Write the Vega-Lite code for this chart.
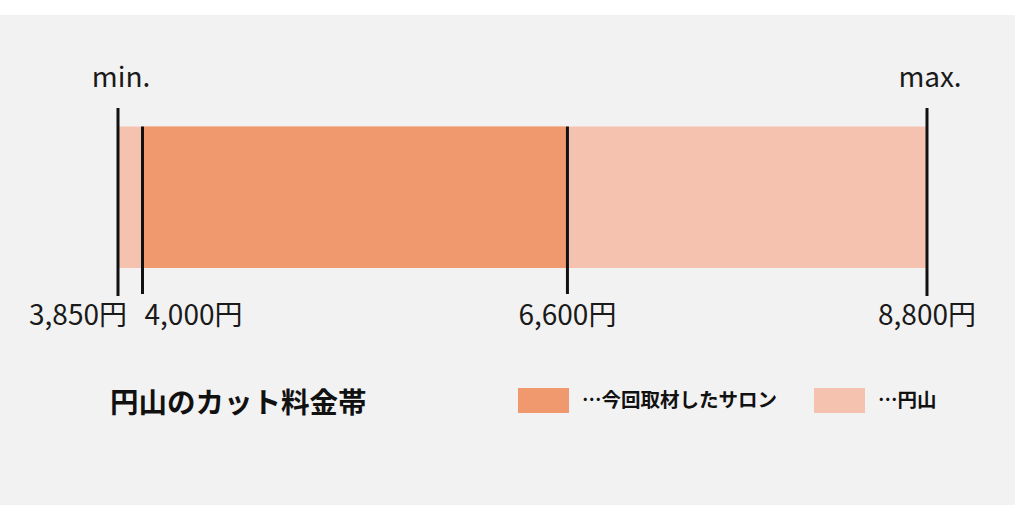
{
  "$schema": "https://vega.github.io/schema/vega-lite/v6.json",
  "width": 1015,
  "height": 490,
  "autosize": {"type": "none"},
  "padding": {"left": 0, "top": 15, "right": 9, "bottom": 13},
  "background": "#ffffff",
  "view": {"fill": "#f2f2f2", "stroke": null},
  "config": {"font": "Noto Sans CJK JP"},
  "datasets": {
    "ranges": [
      {"series": "円山", "low": 3850, "high": 8800},
      {"series": "今回取材したサロン", "low": 4000, "high": 6600}
    ],
    "heading": [
      {"title": "円山のカット料金帯"}
    ]
  },
  "data": {"name": "ranges"},
  "layer": [
    {
      "mark": {"type": "rect"},
      "encoding": {
        "x": {
          "field": "low",
          "type": "quantitative",
          "scale": {"domain": [3128, 9338.5], "nice": false, "zero": false},
          "axis": null
        },
        "x2": {"field": "high"},
        "y": {
          "datum": 22.76,
          "type": "quantitative",
          "scale": {"domain": [0, 100], "reverse": true, "nice": false, "zero": false},
          "axis": null
        },
        "y2": {"datum": 51.63},
        "color": {
          "field": "series",
          "type": "nominal",
          "scale": {
            "domain": ["今回取材したサロン", "円山"],
            "range": ["#F0996F", "#F6C2B0"]
          },
          "legend": {
            "title": null,
            "orient": "none",
            "legendX": 518,
            "legendY": 360,
            "direction": "horizontal",
            "columns": 2,
            "padding": 0,
            "symbolType": "M-1,-0.49H1V0.49H-1Z",
            "symbolSize": 2601,
            "symbolStrokeWidth": 0,
            "symbolOpacity": 1,
            "labelFont": "Noto Sans CJK JP",
            "labelFontSize": 19.5,
            "labelFontWeight": "bold",
            "labelColor": "#111111",
            "labelOffset": 13,
            "labelLimit": 400,
            "columnPadding": 36,
            "labelExpr": "'…' + datum.label"
          }
        }
      }
    },
    {
      "transform": [
        {"fold": ["low", "high"], "as": ["end", "price"]},
        {"filter": "datum.series === '円山'"}
      ],
      "mark": {"type": "rule", "strokeWidth": 3, "color": "#111111"},
      "encoding": {
        "x": {"field": "price", "type": "quantitative"},
        "y": {"datum": 18.98, "type": "quantitative"},
        "y2": {"datum": 57.35}
      }
    },
    {
      "transform": [
        {"fold": ["low", "high"], "as": ["end", "price"]},
        {"filter": "datum.series === '今回取材したサロン'"}
      ],
      "mark": {"type": "rule", "strokeWidth": 3, "color": "#111111"},
      "encoding": {
        "x": {"field": "price", "type": "quantitative"},
        "y": {"datum": 22.76, "type": "quantitative"},
        "y2": {"datum": 56.94}
      }
    },
    {
      "transform": [
        {"filter": "datum.series === '円山'"},
        {"fold": ["low", "high"], "as": ["end", "price"]},
        {"calculate": "datum.end === 'low' ? 'min.' : 'max.'", "as": "label"}
      ],
      "mark": {"type": "text", "fontSize": 28, "color": "#1a1a1a", "align": "center", "baseline": "alphabetic", "dx": 3},
      "encoding": {
        "x": {"field": "price", "type": "quantitative"},
        "y": {"datum": 14.69, "type": "quantitative"},
        "text": {"field": "label"}
      }
    },
    {
      "transform": [
        {"filter": "datum.series === '円山'"},
        {"fold": ["low"], "as": ["end", "price"]},
        {"calculate": "format(datum.price, ',') + '円'", "as": "label"}
      ],
      "mark": {"type": "text", "fontSize": 28, "color": "#1a1a1a", "align": "right", "baseline": "alphabetic", "dx": 9},
      "encoding": {
        "x": {"field": "price", "type": "quantitative"},
        "y": {"datum": 63.27, "type": "quantitative"},
        "text": {"field": "label"}
      }
    },
    {
      "transform": [
        {"filter": "datum.series === '今回取材したサロン'"},
        {"fold": ["low"], "as": ["end", "price"]},
        {"calculate": "format(datum.price, ',') + '円'", "as": "label"}
      ],
      "mark": {"type": "text", "fontSize": 28, "color": "#1a1a1a", "align": "left", "baseline": "alphabetic", "dx": 2},
      "encoding": {
        "x": {"field": "price", "type": "quantitative"},
        "y": {"datum": 63.27, "type": "quantitative"},
        "text": {"field": "label"}
      }
    },
    {
      "transform": [
        {"fold": ["high"], "as": ["end", "price"]},
        {"calculate": "format(datum.price, ',') + '円'", "as": "label"}
      ],
      "mark": {"type": "text", "fontSize": 28, "color": "#1a1a1a", "align": "center", "baseline": "alphabetic"},
      "encoding": {
        "x": {"field": "price", "type": "quantitative"},
        "y": {"datum": 63.27, "type": "quantitative"},
        "text": {"field": "label"}
      }
    },
    {
      "data": {"name": "heading"},
      "mark": {"type": "text", "fontSize": 28.5, "fontWeight": "bold", "color": "#111111", "align": "left", "baseline": "middle"},
      "encoding": {
        "x": {"datum": 3801, "type": "quantitative"},
        "y": {"datum": 79.29, "type": "quantitative"},
        "text": {"field": "title"}
      }
    }
  ]
}
